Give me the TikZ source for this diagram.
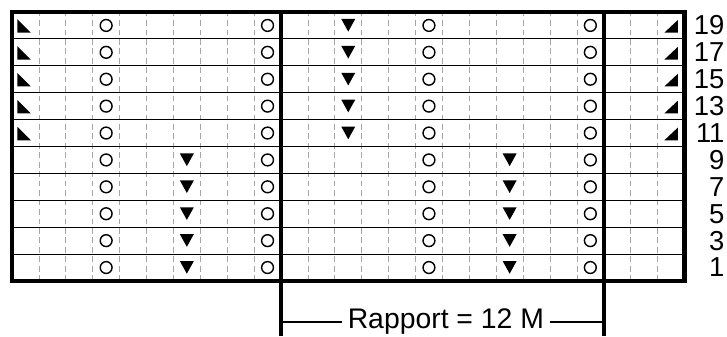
\documentclass[tikz,border=0pt]{standalone}
\usepackage{fontspec}
\setmainfont{Liberation Sans}
\usepackage{tikz}
\usepackage{xcolor}

\begin{document}
\begin{tikzpicture}[x=0.5cm,y=0.5cm,
  yo/.style={line width=0.75pt},
  lab/.style={anchor=east,inner sep=0pt,font=\fontsize{14.5}{14.5}\selectfont}]
  \useasboundingbox (-0.446,-2.08) rectangle (26.58,10.446);
  \foreach \x in {1,...,24} \draw[gray!70,densely dashed,line width=0.4pt] (\x,0) -- (\x,10);
  \foreach \y in {1,...,9} \draw[line width=0.55pt] (0,\y) -- (25,\y);
  % Umschlaege
  \foreach \x in {3.5,9.5,15.5,21.5} \foreach \y in {0,...,9} \draw[yo] (\x,\y+0.5) circle (0.22);
  % Abnahmen
  \foreach \x in {6.5,18.5} \foreach \y in {0,...,4} \fill[shift={(\x,\y+0.5)}] (-0.26,0.24) -- (0.26,0.24) -- (0,-0.23) -- cycle;
  \foreach \y in {5,...,9} \fill[shift={(12.5,\y+0.5)}] (-0.26,0.24) -- (0.26,0.24) -- (0,-0.23) -- cycle;
  \foreach \y in {5,...,9} {\fill[shift={(0.5,\y+0.5)}] (-0.3,0.23) -- (-0.3,-0.27) -- (0.2,-0.27) -- cycle; \fill[shift={(24.5,\y+0.5)}] (-0.25,-0.27) -- (0.25,-0.27) -- (0.25,0.2) -- cycle;}
  \draw[line width=2.4pt] (0,0) rectangle (25,10);
  \draw[line width=2pt] (10,10) -- (10,-2.05); \draw[line width=2pt] (22,10) -- (22,-2.05);
  \foreach \r in {1,...,10} {\pgfmathtruncatemacro\n{2*\r-1} \node[lab] (row\n) at (26.5,\r-0.5) {\n};}
  \node[anchor=base,inner xsep=3pt,inner ysep=0pt,font=\fontsize{15}{15}\selectfont] (rap) at (16.13,-1.76) {Rapport = 12 M};
  \coordinate (rl) at (10,-1.535); \coordinate (rr) at (22,-1.535);
  \draw[line width=1pt] (rl) -- (rl -| rap.west); \draw[line width=1pt] (rap.east |- rr) -- (rr);
\end{tikzpicture}
\end{document}
